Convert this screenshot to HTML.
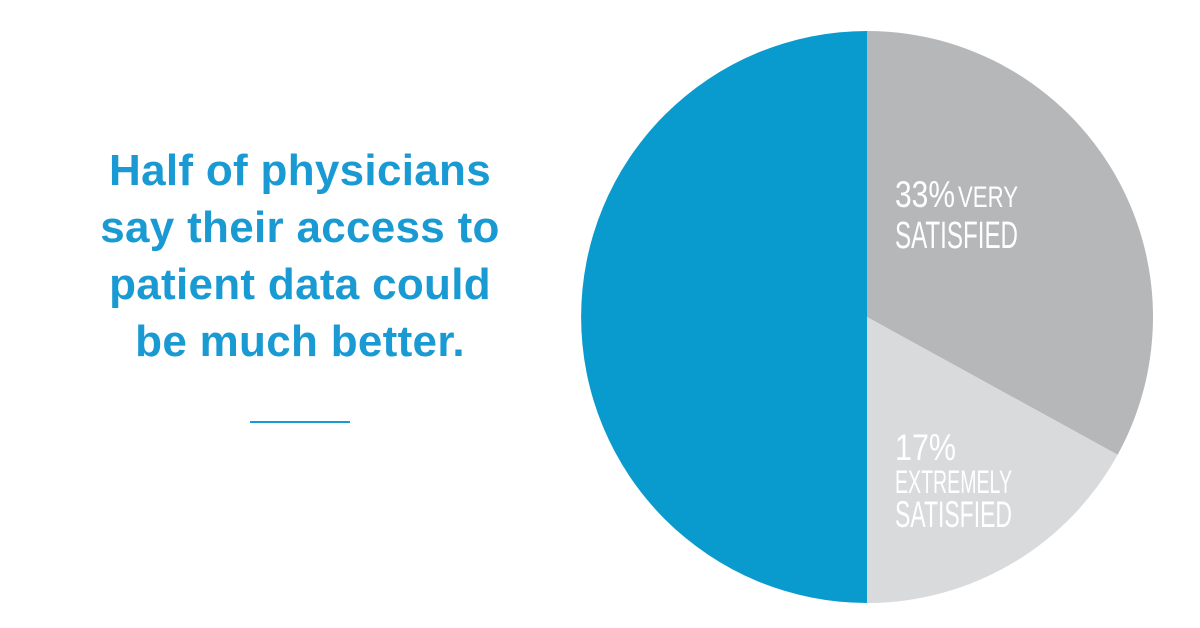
<!DOCTYPE html>
<html><head><meta charset="utf-8"><style>
html,body{margin:0;padding:0;background:#fff;}
#wrap{position:relative;width:1200px;height:628px;overflow:hidden;font-family:"Liberation Sans",sans-serif;}
#title{position:absolute;left:40px;width:520px;top:142px;text-align:center;color:#1a9ad3;font-weight:bold;font-size:44px;line-height:57px;letter-spacing:0.3px;margin:0;}
#rule{position:absolute;left:250px;top:421px;width:100px;height:2px;background:#1a9ad3;}
svg{position:absolute;left:0;top:0;}
</style></head><body>
<div id="wrap">
<h1 id="title">Half of physicians<br>say their access to<br>patient data could<br>be much better.</h1>
<div id="rule"></div>
<svg width="1200" height="628">
<g id="slices"></g>
<g font-family="'Liberation Sans Narrow','Liberation Sans',sans-serif" fill="#fff">
<text x="895" y="207" font-size="37" textLength="60" lengthAdjust="spacingAndGlyphs">33%</text>
<text x="958" y="207" font-size="30" textLength="60" lengthAdjust="spacingAndGlyphs">VERY</text>
<text x="895" y="248" font-size="38" textLength="123" lengthAdjust="spacingAndGlyphs">SATISFIED</text>
<text x="895" y="460" font-size="37" textLength="61" lengthAdjust="spacingAndGlyphs">17%</text>
<text x="895" y="493" font-size="32" textLength="117" lengthAdjust="spacingAndGlyphs">EXTREMELY</text>
<text x="895" y="527" font-size="37" textLength="117" lengthAdjust="spacingAndGlyphs">SATISFIED</text>
</g>
</svg>
</div>
<script>
const categories = ["Very satisfied", "Extremely satisfied", "Other"];
const values = [33, 17, 50];
const colors = ["#b6b7b9", "#d9dadc", "#0a9bce"];
const cx = 867, cy = 317, r = 286;
const g = document.getElementById('slices');
const total = values.reduce((a,b)=>a+b,0);
let acc = 0;
function pt(f){const a=f*2*Math.PI;return [cx+r*Math.sin(a), cy-r*Math.cos(a)];}
values.forEach((v,i)=>{
  const s=acc/total, e=(acc+v)/total; acc+=v;
  const [x1,y1]=pt(s),[x2,y2]=pt(e);
  const large=(e-s)>0.5?1:0;
  const p=document.createElementNS('http://www.w3.org/2000/svg','path');
  p.setAttribute('d',`M${cx},${cy} L${x1},${y1} A${r},${r} 0 ${large} 1 ${x2},${y2} Z`);
  p.setAttribute('fill',colors[i]);
  
  
  g.appendChild(p);
});
</script>
</body></html>
